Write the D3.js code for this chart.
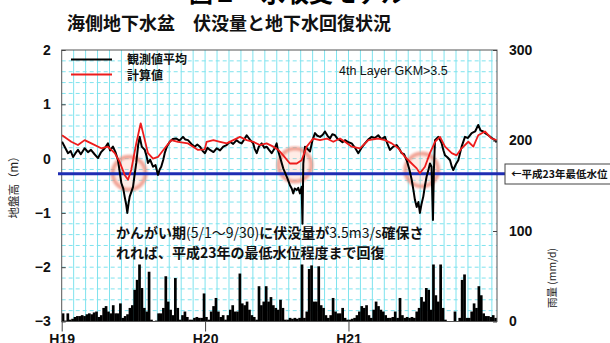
<!DOCTYPE html>
<html><head><meta charset="utf-8">
<script src="https://cdn.jsdelivr.net/npm/d3@7"></script>
<style>
body{margin:0;background:#fff;}
svg{display:block;font-family:"Liberation Sans",Arial,"Noto Sans CJK JP",sans-serif;}
.jp{font-family:"Noto Sans CJK JP",sans-serif;}
</style>
</head><body>
<svg id="c" width="610" height="343"></svg>
<script>
// ---- data (months since Jan H19; groundwater level in m; rainfall in mm/d) ----
const obsMonth=[0.03,0.25,0.53,0.75,0.95,1.15,1.36,1.6,1.92,2.2,2.45,2.75,3.04,3.3,3.60,3.87,4.05,4.29,4.5,4.71,4.99,5.15,5.27,5.4,5.49,5.6,5.69,5.85,5.97,6.1,6.24,6.4,6.53,6.7,6.95,7.1,7.22,7.4,7.64,7.85,8.06,8.2,8.33,8.5,8.62,8.8,9.04,9.3,9.59,9.85,10.15,10.35,10.57,10.85,11.13,11.35,11.57,11.8,11.99,12.2,12.41,12.7,12.97,13.25,13.52,13.8,14.08,14.35,14.64,14.85,15.06,15.3,15.48,15.75,16.03,16.15,16.32,16.5,16.74,16.95,17.15,17.35,17.57,17.8,17.99,18.1,18.27,18.54,18.83,19.10,19.25,19.38,19.5,19.67,19.8,19.94,20.08,20.15,20.22,20.36,20.55,20.78,21.0,21.20,21.4,21.62,21.85,22.03,22.25,22.45,22.65,22.87,23.1,23.29,23.5,23.71,24.0,24.27,24.55,24.82,25.1,25.38,25.65,25.94,26.2,26.49,26.75,27.05,27.25,27.47,27.75,28.03,28.25,28.45,28.65,28.87,29.1,29.29,29.45,29.56,29.71,29.85,29.98,30.1,30.26,30.4,30.54,30.7,30.82,30.95,31.07,31.15,31.24,31.51,31.65,31.80,31.95,32.08,32.3,32.50,32.65,32.77,33.0,33.19,33.47,33.75,34.0,34.31,34.6,34.86,35.05,35.28,35.5,35.70,36.0,36.26,36.40];
const obsLevel=[0.31,0.22,0.10,0.14,0.03,0.10,0.16,0.08,0.19,0.12,0.16,0.08,0.01,0.12,0.19,0.28,0.15,0.22,0.12,-0.03,-0.45,-0.55,-0.70,-0.85,-1.00,-0.82,-0.70,-0.60,-0.52,-0.30,-0.08,0.25,0.40,0.22,0.16,0.05,-0.08,-0.02,-0.15,-0.12,-0.30,-0.20,-0.15,-0.02,0.10,0.22,0.31,0.36,0.37,0.33,0.40,0.35,0.34,0.27,0.22,0.26,0.22,0.14,0.10,0.20,0.16,0.12,0.19,0.15,0.22,0.25,0.31,0.27,0.34,0.30,0.28,0.36,0.43,0.35,0.28,0.18,0.10,0.22,0.28,0.20,0.22,0.16,0.10,0.18,0.28,0.15,0.03,-0.18,-0.33,-0.49,-0.55,-0.64,-0.55,-0.58,-0.54,-0.64,-0.52,-1.20,-0.09,0.22,0.18,0.13,0.35,0.47,0.42,0.40,0.44,0.50,0.42,0.37,0.45,0.43,0.36,0.34,0.30,0.34,0.30,0.28,0.20,0.10,0.20,0.28,0.35,0.40,0.38,0.43,0.36,0.40,0.28,0.16,0.22,0.25,0.18,0.10,0.08,-0.03,-0.20,-0.39,-0.60,-0.76,-0.89,-0.80,-1.00,-0.85,-0.70,-0.50,-0.33,-0.20,-0.09,-0.15,-1.13,-0.20,0.34,0.40,0.35,0.28,0.15,0.06,0.02,-0.03,-0.15,-0.21,-0.10,-0.03,0.22,0.40,0.38,0.47,0.50,0.62,0.52,0.50,0.46,0.43,0.38,0.34,0.30];
const calcMonth=[0.03,0.80,1.36,1.92,2.48,3.31,3.87,4.44,4.85,5.27,5.55,5.82,6.24,6.61,6.89,7.22,7.64,8.06,8.62,9.17,9.73,10.57,11.41,11.97,12.13,12.69,13.25,13.81,14.36,14.92,15.48,16.03,16.59,17.15,17.71,18.13,18.54,19.10,19.67,20.08,20.50,21.05,21.62,22.18,22.73,23.29,23.71,24.27,24.96,25.66,26.49,27.05,27.62,28.17,28.73,29.29,29.71,29.98,30.40,30.82,31.24,31.66,32.08,32.64,33.05,33.47,34.03,34.45,34.86,35.42,35.98,36.40];
const calcLevel=[0.43,0.31,0.25,0.34,0.28,0.19,0.22,0.10,-0.06,-0.30,-0.39,-0.21,0.28,0.65,0.40,0.10,0.00,0.03,0.19,0.34,0.31,0.28,0.16,0.17,0.31,0.34,0.31,0.28,0.34,0.40,0.34,0.31,0.25,0.28,0.22,0.16,0.06,-0.09,-0.09,-0.03,0.22,0.37,0.34,0.37,0.31,0.37,0.31,0.22,0.19,0.34,0.37,0.34,0.28,0.19,0.03,-0.09,-0.18,-0.27,-0.15,0.10,0.31,0.40,0.22,0.10,0.06,0.19,0.31,0.22,0.43,0.50,0.37,0.34];
const rainStepMonths=0.2;
const rainfall=[9,1,9,2,3,5,6,6,7,6, 8,9,8,10,11,5,7,15,17,11, 9,18,9,9,20,4,6,8,15,18, 35,46,63,37,15,11,55,2,0,1,
 9,9,15,50,22,13,7,48,15,2, 7,11,5,2,2,4,5,4,4,31, 5,2,11,17,26,11,5,7,2,7, 13,18,11,11,53,20,18,22,13,7,
 5,2,39,18,22,39,22,27,18,15, 13,24,15,2,2,4,3,4,3,4, 63,4,11,58,62,22,22,61,18,15, 7,4,7,26,11,9,9,15,4,2,
 2,3,4,7,11,17,15,18,7,4, 13,22,17,13,11,7,4,4,5,11, 4,26,7,4,5,4,5,4,11,15, 27,22,37,35,13,63,29,22,63,15,
 2,0,0,0,11,0,4,46,52,4, 4,11,20,15,39,29,9,6,6,5, 7,4];
const yearTicks=[0,12,24];
const yearLabels=["H19","H20","H21"];
const levelTicks=[-3,-2,-1,0,1,2];
const rainTicks=[0,100,200,300];
const minLevelH23=-0.28;
const recoveryMonth=[5.64,19.52,30.13];
const recoveryLevel=[-0.27,-0.12,-0.21];
const seriesNames=["観測値平均","計算値"];

// ---- scales ----
const svg=d3.select("#c");
const L=61.7,R=497,T=50,B=321.5;
const x=d3.scaleLinear().domain([0,36.43]).range([L,R]);
const y=d3.scaleLinear().domain([-3,2]).range([B,T]);
const yR=d3.scaleLinear().domain([0,300]).range([B,T]);

const defs=svg.append("defs");
defs.append("clipPath").attr("id","clip").append("rect").attr("x",L).attr("y",T).attr("width",R-L).attr("height",B-T);
defs.append("filter").attr("id","blur").append("feGaussianBlur").attr("stdDeviation",1.3);

// grid
const grid=svg.append("g");
grid.selectAll("line.v").data(d3.range(1,37)).join("line")
 .attr("x1",d=>x(d)).attr("x2",d=>x(d)).attr("y1",T).attr("y2",B)
 .attr("stroke","#7fe3ee").attr("stroke-width",1);
grid.selectAll("line.h").data(d3.range(-2.8,2,0.2).map(v=>+v.toFixed(1))).join("line")
 .attr("x1",L).attr("x2",R).attr("y1",d=>y(d)).attr("y2",d=>y(d))
 .attr("stroke","#7fe3ee").attr("stroke-width",1).attr("stroke-dasharray","4,3");

// rainfall bars
const bw=x(rainStepMonths)-x(0);
svg.append("g").attr("clip-path","url(#clip)").selectAll("rect").data(rainfall).join("rect")
 .attr("x",(d,i)=>x(i*rainStepMonths)).attr("width",bw+0.3)
 .attr("y",d=>yR(d)).attr("height",d=>B-yR(d)).attr("fill","#000");

// frame
svg.append("rect").attr("x",L).attr("y",T).attr("width",R-L).attr("height",B-T)
 .attr("fill","none").attr("stroke","#555").attr("stroke-width",1);

// recovery circles
svg.append("g").selectAll("circle").data(recoveryMonth).join("circle")
 .attr("cx",d=>x(d)).attr("cy",(d,i)=>y(recoveryLevel[i])).attr("r",16.5)
 .attr("fill","rgba(255,185,165,0.28)").attr("stroke","#ec8a78").attr("stroke-opacity",0.75)
 .attr("stroke-width",4).attr("filter","url(#blur)");

// H23 minimum level line
svg.append("line").attr("x1",58).attr("x2",505).attr("y1",y(minLevelH23)).attr("y2",y(minLevelH23))
 .attr("stroke","#1f2db3").attr("stroke-width",3);

// lines
const line=d3.line().x(d=>x(d[0])).y(d=>y(d[1]));
const gl=svg.append("g").attr("clip-path","url(#clip)");
gl.append("path").datum(obsMonth.map((m,i)=>[m,obsLevel[i]])).attr("d",line)
 .attr("fill","none").attr("stroke","#000").attr("stroke-width",2).attr("stroke-linejoin","round");
gl.append("path").datum(calcMonth.map((m,i)=>[m,calcLevel[i]])).attr("d",line)
 .attr("fill","none").attr("stroke","#ee1c1c").attr("stroke-width",1.8).attr("stroke-linejoin","round");

// axes
const fmt=d=>d<0?"−"+Math.abs(d):String(d);
const ax1=svg.append("g").attr("transform",`translate(${L},0)`)
 .call(d3.axisLeft(y).tickValues(levelTicks).tickSize(0).tickPadding(11).tickFormat(fmt));
svg.append("g").attr("transform",`translate(${L},0)`)
 .call(d3.axisRight(y).tickValues(levelTicks).tickSize(4).tickFormat(""));
const ax2=svg.append("g").attr("transform",`translate(${R},0)`)
 .call(d3.axisRight(yR).tickValues(rainTicks).tickSize(0).tickPadding(12));
svg.append("g").attr("transform",`translate(${R},0)`)
 .call(d3.axisLeft(yR).tickValues(rainTicks).tickSize(4).tickFormat(""));
const ax3=svg.append("g").attr("transform",`translate(0,${B})`)
 .call(d3.axisBottom(x).tickValues(yearTicks).tickSize(10).tickPadding(3).tickFormat((d,i)=>yearLabels[i]));
svg.selectAll(".domain").remove();
svg.selectAll(".tick line").attr("stroke","#444");
[ax1,ax2,ax3].forEach(a=>a.selectAll("text").attr("font-size",14).attr("font-weight","bold").attr("fill","#111")
 .attr("font-family","'Liberation Sans',Arial,sans-serif"));

// axis titles
svg.append("text").attr("class","jp").attr("transform","translate(18,184.5) rotate(-90)")
 .attr("text-anchor","middle").attr("font-size",11.5).attr("fill","#222").text("地盤高（m）");
svg.append("text").attr("class","jp").attr("transform","translate(556,278) rotate(-90)")
 .attr("text-anchor","middle").attr("font-size",10.5).attr("fill","#222").text("雨量 (mm/d)");

// titles
svg.append("text").attr("class","jp").attr("x",189).attr("y",2).attr("font-size",24).attr("font-weight","bold").text("図２　水収支モデル");
svg.append("text").attr("class","jp").attr("x",67).attr("y",30).attr("font-size",18).attr("font-weight","bold").attr("fill","#111")
 .text("海側地下水盆　伏没量と地下水回復状況");

// legend
const lg=svg.append("g");
[["#000",59.5,63.5],["#ee1c1c",74.5,80]].forEach((c,i)=>{
 lg.append("line").attr("x1",71).attr("x2",112).attr("y1",c[1]).attr("y2",c[1]).attr("stroke",c[0]).attr("stroke-width",2);
 lg.append("text").attr("class","jp").attr("x",127).attr("y",c[2]).attr("font-size",12).attr("font-weight","bold").attr("fill","#111").text(seriesNames[i]);
});
svg.append("text").attr("x",339).attr("y",74.5).attr("font-size",12.5).attr("fill","#111").text("4th Layer GKM>3.5");

// annotation
const an=svg.append("text").attr("class","jp").attr("font-size",14).attr("font-weight","bold").attr("fill","#111");
const t1=an.append("tspan").attr("x",116).attr("y",238);
t1.append("tspan").text("かんがい期");
t1.append("tspan").attr("font-weight","normal").text("(5/1～9/30)");
t1.append("tspan").text("に伏没量が");
t1.append("tspan").attr("font-weight","normal").text("3.5m3/s");
t1.append("tspan").text("確保さ");
an.append("tspan").attr("x",116).attr("y",257.5).text("れれば、平成23年の最低水位程度まで回復");

// right-side label box
svg.append("rect").attr("x",505).attr("y",164).attr("width",110).attr("height",20)
 .attr("fill","#fff").attr("stroke","#444").attr("stroke-width",1);
svg.append("text").attr("class","jp").attr("x",511).attr("y",178).attr("font-size",10.5).attr("font-weight","bold").attr("fill","#111")
 .text("←平成23年最低水位");
</script>
</body></html>
